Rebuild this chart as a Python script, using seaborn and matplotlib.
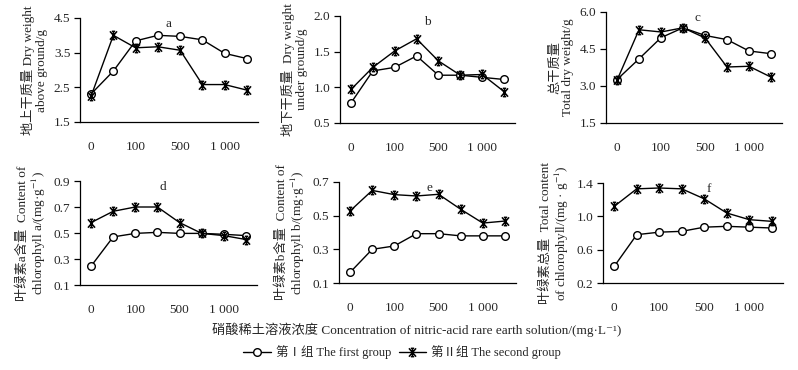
import numpy as np
import pandas as pd
import matplotlib
matplotlib.use("Agg")
import matplotlib.pyplot as plt
import seaborn as sns
from matplotlib.path import Path
from matplotlib.ticker import FixedLocator, FormatStrFormatter
from matplotlib.lines import Line2D

sns.set_theme(style="white")
plt.rcParams["font.family"] = ["Liberation Serif", "Noto Sans CJK SC", "DejaVu Serif"]
plt.rcParams["mathtext.fontset"] = "stix"

# ---------------- data ----------------
conc_labels = ["0", "", "100", "", "500", "", "1 000", ""]

a_g1 = [2.31, 2.97, 3.84, 4.00, 3.97, 3.87, 3.48, 3.33]
a_g2 = [2.25, 4.00, 3.64, 3.67, 3.57, 2.58, 2.58, 2.42]
b_g1 = [0.78, 1.23, 1.28, 1.44, 1.17, 1.17, 1.14, 1.11]
b_g2 = [0.97, 1.28, 1.51, 1.68, 1.37, 1.17, 1.18, 0.94]
c_g1 = [3.26, 4.10, 4.96, 5.36, 5.05, 4.88, 4.42, 4.31]
c_g2 = [3.23, 5.28, 5.19, 5.36, 4.95, 3.77, 3.80, 3.36]
d_g1 = [0.245, 0.47, 0.497, 0.505, 0.497, 0.497, 0.49, 0.48]
d_g2 = [0.58, 0.667, 0.70, 0.70, 0.58, 0.497, 0.48, 0.45]
e_g1 = [0.163, 0.30, 0.32, 0.393, 0.393, 0.38, 0.38, 0.38]
e_g2 = [0.528, 0.65, 0.625, 0.617, 0.627, 0.538, 0.456, 0.468]
f_g1 = [0.40, 0.78, 0.81, 0.82, 0.87, 0.88, 0.87, 0.86]
f_g2 = [1.12, 1.33, 1.34, 1.33, 1.21, 1.04, 0.96, 0.94]

yticks_a = [1.5, 2.5, 3.5, 4.5]
yticks_b = [0.5, 1.0, 1.5, 2.0]
yticks_c = [1.5, 3.0, 4.5, 6.0]
yticks_d = [0.1, 0.3, 0.5, 0.7, 0.9]
yticks_e = [0.1, 0.3, 0.5, 0.7]
yticks_f = [0.2, 0.6, 1.0, 1.4]

ylabel_a = "地上干质量 Dry weight\nabove ground/g"
ylabel_b = "地下干质量  Dry weight\nunder ground/g"
ylabel_c = "总干质量\nTotal dry weight/g"
ylabel_d = "叶绿素a含量  Content of\nchlorophyll a/(mg·g$^{-1}$)"
ylabel_e = "叶绿素b含量  Content of\nchlorophyll b/(mg·g$^{-1}$)"
ylabel_f = "叶绿素总量  Total content\nof chlorophyll/(mg · g$^{-1}$)"

group_names = ["第Ⅰ组 The first group", "第Ⅱ组 The second group"]
xlabel_text = "硝酸稀土溶液浓度 Concentration of nitric-acid rare earth solution/(mg·L⁻¹)"

# ---------------- style ----------------
star_path = Path(
    [(-0.85, -1), (0.85, 1), (-0.85, 1), (0.85, -1), (0, -1), (0, 1),
     (-0.4, 1), (0.4, 1), (-0.4, -1), (0.4, -1)],
    [Path.MOVETO, Path.LINETO] * 5,
)

W, H = 798, 370
fig = plt.figure(figsize=(W / 100, H / 100), dpi=100)


def add_ax(l, r, t, b):
    return fig.add_axes([l / W, 1 - b / H, (r - l) / W, (b - t) / H])


panels = [
    (add_ax(80, 258, 18, 122), a_g1, a_g2, yticks_a, "%.1f", ylabel_a, "a", 0.50),
    (add_ax(340, 515, 16, 123), b_g1, b_g2, yticks_b, "%.1f", ylabel_b, "b", 0.50),
    (add_ax(606, 782, 12, 123), c_g1, c_g2, yticks_c, "%.1f", ylabel_c, "c", 0.52),
    (add_ax(80, 257, 181, 285), d_g1, d_g2, yticks_d, "%.1f", ylabel_d, "d", 0.47),
    (add_ax(339, 516, 182, 283), e_g1, e_g2, yticks_e, "%.1f", ylabel_e, "e", 0.51),
    (add_ax(603, 783, 183, 283), f_g1, f_g2, yticks_f, "%.1f", ylabel_f, "f", 0.59),
]

pos = np.arange(len(conc_labels))

for ax, g1, g2, yt, fmt, ylab, letter, lx in panels:
    df = pd.DataFrame({"pos": np.concatenate([pos, pos]),
                       "val": g1 + g2,
                       "group": [group_names[0]] * len(pos) + [group_names[1]] * len(pos)})
    sns.lineplot(data=df[df.group == group_names[0]], x="pos", y="val", ax=ax,
                 color="black", lw=1.0, marker="o", ms=5.5, mfc="white",
                 mec="black", mew=1.0, clip_on=False, legend=False)
    sns.lineplot(data=df[df.group == group_names[1]], x="pos", y="val", ax=ax,
                 color="black", lw=1.0, marker=star_path, ms=6, mfc="none",
                 mec="black", mew=1.1, clip_on=False, legend=False)
    ax.set_xlim(-0.5, len(pos) - 0.5)
    ax.set_ylim(yt[0], yt[-1])
    ax.yaxis.set_major_locator(FixedLocator(yt))
    ax.yaxis.set_major_formatter(FormatStrFormatter(fmt))
    ax.xaxis.set_major_locator(FixedLocator(pos))
    ax.set_xticklabels(conc_labels)
    ax.xaxis.set_minor_locator(FixedLocator(np.arange(len(pos) + 1) - 0.5))
    ax.tick_params(axis="x", which="major", length=0, pad=14, labelsize=9.5)
    ax.tick_params(axis="x", which="minor", direction="inout", length=5, width=0.9, color="black")
    ax.tick_params(axis="y", which="major", direction="out", length=4, width=0.9,
                   color="black", labelsize=9.5, pad=3, left=True)
    for s in ["top", "right"]:
        ax.spines[s].set_visible(False)
    for s in ["left", "bottom"]:
        ax.spines[s].set_color("black")
        ax.spines[s].set_linewidth(0.9)
    ax.set_xlabel("")
    ax.set_ylabel(ylab, fontsize=9.5, linespacing=1.1, labelpad=4)
    ax.text(lx, 1.0, letter, transform=ax.transAxes, ha="center", va="top", fontsize=9.5)
    ax.set_facecolor("white")

fig.text(417 / W, 1 - 330 / H, xlabel_text, ha="center", va="center", fontsize=9.5)

handles = [
    Line2D([], [], color="black", lw=1.0, marker="o", ms=5.5, mfc="white", mec="black", mew=1.0),
    Line2D([], [], color="black", lw=1.0, marker=star_path, ms=6, mfc="none", mec="black", mew=1.1),
]
fig.legend(handles, group_names, loc="center", bbox_to_anchor=(402 / W, 1 - 352 / H),
           ncol=2, frameon=False, fontsize=9, handlelength=2.2, handletextpad=0.4,
           columnspacing=0.6, borderpad=0)

fig.savefig("out.png", dpi=100, facecolor="white")
